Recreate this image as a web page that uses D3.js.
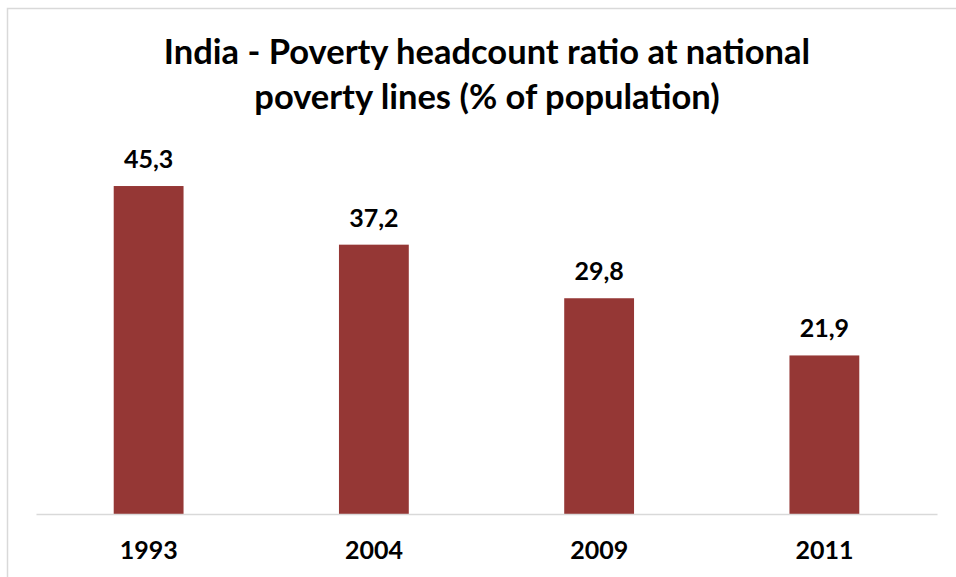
<!DOCTYPE html>
<html>
<head>
<meta charset="utf-8">
<script src="https://cdn.jsdelivr.net/npm/d3@7"></script>
<style>
  body { margin: 0; background: #fff; }
  text { font-family: Lato, "Open Sans", sans-serif; font-weight: bold; fill: #000; }
</style>
</head>
<body>
<svg></svg>
<script>
const width = 956;
const height = 577;

const years = ["1993", "2004", "2009", "2011"];
const poverty = [45.3, 37.2, 29.8, 21.9];
const titleLines = ["India - Poverty headcount ratio at national", "poverty lines (% of population)"];

const svg = d3.select("svg")
  .attr("width", width)
  .attr("height", height);

// chart frame (only top and left edges fall inside the picture)
svg.append("rect")
  .attr("x", 7.5)
  .attr("y", 8.5)
  .attr("width", 980)
  .attr("height", 600)
  .attr("fill", "none")
  .attr("stroke", "#d9d9d9")
  .attr("stroke-width", 1.5);

const x = d3.scaleBand()
  .domain(years)
  .range([36, 937])
  .paddingInner(0.69)
  .paddingOuter(0.345);

const y = d3.scaleLinear()
  .domain([0, 50])
  .range([514, 152]);

svg.selectAll("text.title")
  .data(titleLines)
  .join("text")
  .attr("class", "title")
  .attr("x", 487)
  .attr("y", (d, i) => 64 + i * 45)
  .attr("text-anchor", "middle")
  .style("font-size", "34.5px")
  .text(d => d);

svg.selectAll("rect.bar")
  .data(poverty)
  .join("rect")
  .attr("class", "bar")
  .attr("x", (d, i) => x(years[i]))
  .attr("y", d => y(d))
  .attr("width", x.bandwidth())
  .attr("height", d => y(0) - y(d))
  .attr("fill", "#953735");

svg.selectAll("text.value")
  .data(poverty)
  .join("text")
  .attr("class", "value")
  .attr("x", (d, i) => x(years[i]) + x.bandwidth() / 2)
  .attr("y", d => y(d) - 18)
  .attr("text-anchor", "middle")
  .style("font-size", "25px")
  .text(d => d3.format(".1f")(d).replace(".", ","));

const axis = svg.append("g")
  .attr("transform", `translate(0, ${y(0)})`)
  .call(d3.axisBottom(x).tickSize(0).tickPadding(27));

axis.select(".domain").attr("stroke", "#d9d9d9").attr("stroke-width", 1.5);
axis.selectAll(".tick text")
  .attr("font-family", null)
  .style("font-size", "25px");
</script>
</body>
</html>
